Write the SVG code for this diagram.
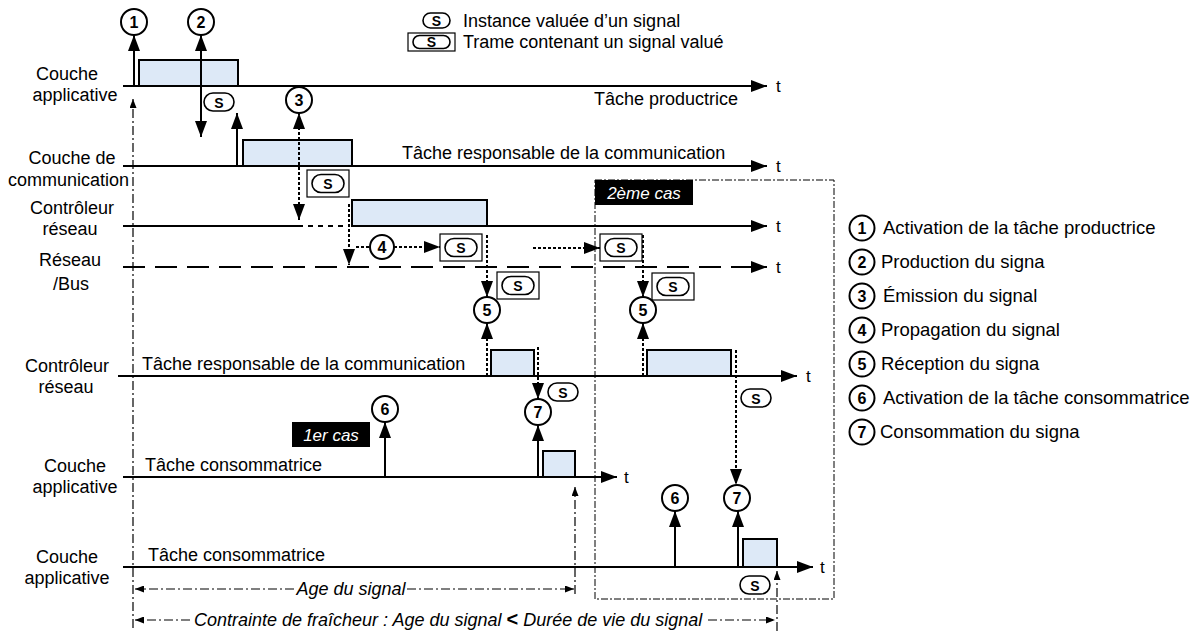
<svg xmlns="http://www.w3.org/2000/svg" width="1197" height="631" viewBox="0 0 1197 631">
<style>
  text { font-family: "Liberation Sans", Arial, sans-serif; fill: #000; }
  .lbl { font-size: 18px; }
  .lc { font-size: 18px; text-anchor: middle; }
  .leg { font-size: 18px; }
  .lege { font-size: 18.5px; }
  .it { font-size: 18px; font-style: italic; }
  .tag { font-size: 17px; font-style: italic; fill: #fff; text-anchor: middle; }
  .num { font-size: 16px; font-weight: bold; text-anchor: middle; }
  .s { font-size: 14px; font-weight: bold; text-anchor: middle; }
  .ax { font-size: 17px; }
  .task { fill: #dde9f7; stroke: #000; stroke-width: 2; }
  .ev { fill: #fff; stroke: #000; stroke-width: 2; }
  .pill { fill: #fff; stroke: #000; stroke-width: 1.6; }
  .frame { fill: #fff; stroke: #000; stroke-width: 1.2; }
  .solid { stroke: #000; stroke-width: 2; fill: none; }
  .dotted { stroke: #000; stroke-width: 2; stroke-dasharray: 3 2; fill: none; }
  .gap { stroke: #000; stroke-width: 2; stroke-dasharray: 5 5; fill: none; }
  .bus { stroke: #000; stroke-width: 2; stroke-dasharray: 22 10; fill: none; }
  .dd { stroke: #000; stroke-width: 1.2; stroke-dasharray: 9 3 2 3; fill: none; }
  .zone { stroke: #000; stroke-width: 1; stroke-dasharray: 7 2 2 2; fill: none; }
  .tagbox { fill: #000; }
</style>
<defs>
  <marker id="head" viewBox="0 0 16 12" refX="16" refY="6" markerWidth="16" markerHeight="12" markerUnits="userSpaceOnUse" orient="auto-start-reverse"><path d="M0,0 L16,6 L0,12 Z"/></marker>
  <marker id="small" viewBox="0 0 9 7" refX="9" refY="3.5" markerWidth="9" markerHeight="7" markerUnits="userSpaceOnUse" orient="auto-start-reverse"><path d="M0,0 L9,3.5 L0,7 Z"/></marker>
  <g id="sig"><rect class="pill" x="0" y="0" width="30" height="18" rx="9"/><text class="s" x="15" y="14.5">S</text></g>
  <g id="trame"><rect class="frame" x="0" y="0" width="42" height="27"/><rect class="pill" x="5" y="4.5" width="32" height="18" rx="9"/><text class="s" x="21" y="19">S</text></g>
</defs>

<!-- second case zone -->
<g id="zone-cas2">
  <rect class="zone" x="595" y="180" width="239" height="419"/>
  <rect class="tagbox" x="595" y="180" width="98" height="25"/>
  <text class="tag" x="644" y="199">2ème cas</text>
</g>

<!-- task execution boxes -->
<g id="task-prod"><rect class="task" x="139" y="60" width="99" height="26"/></g>
<g id="task-comm"><rect class="task" x="243" y="140" width="109" height="26"/></g>
<g id="task-ctrl-tx"><rect class="task" x="352" y="200" width="135" height="26"/></g>
<g id="task-ctrl-rx1"><rect class="task" x="491" y="350" width="43" height="26"/></g>
<g id="task-cons1"><rect class="task" x="543" y="451" width="32" height="26"/></g>
<g id="task-ctrl-rx2"><rect class="task" x="647" y="350" width="84" height="26"/></g>
<g id="task-cons2"><rect class="task" x="743" y="539" width="34" height="28"/></g>

<g id="connectors">
  <!-- time axes -->
  <line class="solid" x1="123" y1="86" x2="767" y2="86" marker-end="url(#head)"/>
  <line class="solid" x1="123" y1="166" x2="767" y2="166" marker-end="url(#head)"/>
  <line class="solid" x1="123" y1="226" x2="303" y2="226"/>
  <line class="gap" x1="308" y1="226" x2="350" y2="226"/>
  <line class="solid" x1="352" y1="226" x2="767" y2="226" marker-end="url(#head)"/>
  <line class="bus" x1="123" y1="267" x2="767" y2="267" marker-end="url(#head)"/>
  <line class="solid" x1="118" y1="376" x2="797" y2="376" marker-end="url(#head)"/>
  <line class="solid" x1="123" y1="477" x2="617" y2="477" marker-end="url(#head)"/>
  <line class="solid" x1="123" y1="567" x2="813" y2="567" marker-end="url(#head)"/>

  <!-- producer side events -->
  <line class="solid" x1="134" y1="86" x2="134" y2="35" marker-end="url(#head)"/>
  <line class="solid" x1="201" y1="137" x2="201" y2="35" marker-start="url(#head)" marker-end="url(#head)"/>
  <line class="solid" x1="237" y1="166" x2="237" y2="113" marker-end="url(#head)"/>
  <line class="dotted" x1="299" y1="220" x2="299" y2="113" marker-start="url(#head)" marker-end="url(#head)"/>
  <line class="dotted" x1="349" y1="204" x2="349" y2="265" marker-end="url(#head)"/>
  <line class="dotted" x1="356" y1="247" x2="370" y2="247"/>
  <line class="dotted" x1="394" y1="247" x2="440" y2="247" marker-end="url(#head)"/>
  <line class="dotted" x1="533" y1="248" x2="600" y2="248" marker-end="url(#head)"/>

  <!-- first case reception -->
  <line class="dotted" x1="487" y1="235" x2="487" y2="297" marker-end="url(#head)"/>
  <line class="dotted" x1="487" y1="376" x2="487" y2="323" marker-end="url(#head)"/>
  <line class="dotted" x1="538" y1="347" x2="538" y2="399" marker-end="url(#head)"/>
  <line class="solid" x1="538" y1="477" x2="538" y2="425" marker-end="url(#head)"/>
  <line class="solid" x1="385" y1="477" x2="385" y2="422" marker-end="url(#head)"/>

  <!-- second case reception -->
  <line class="dotted" x1="643" y1="235" x2="643" y2="297" marker-end="url(#head)"/>
  <line class="dotted" x1="643" y1="376" x2="643" y2="323" marker-end="url(#head)"/>
  <line class="dotted" x1="736" y1="350" x2="736" y2="485" marker-end="url(#head)"/>
  <line class="solid" x1="738" y1="567" x2="738" y2="511" marker-end="url(#head)"/>
  <line class="solid" x1="675" y1="567" x2="675" y2="511" marker-end="url(#head)"/>

  <!-- age and lifetime markers -->
  <line class="dd" x1="133" y1="628" x2="133" y2="99" marker-end="url(#small)"/>
  <line class="dd" x1="575" y1="594" x2="575" y2="487" marker-end="url(#small)"/>
  <line class="dd" x1="777" y1="631" x2="777" y2="571" marker-end="url(#small)"/>
  <line class="dd" x1="294" y1="589" x2="135" y2="589" marker-end="url(#small)"/>
  <line class="dd" x1="407" y1="589" x2="574" y2="589" marker-end="url(#small)"/>
  <line class="dd" x1="190" y1="620" x2="135" y2="620" marker-end="url(#small)"/>
  <line class="dd" x1="708" y1="620" x2="775" y2="620" marker-end="url(#small)"/>
</g>

<!-- signal instances -->
<g id="sig-prod"><use href="#sig" x="204" y="93"/></g>
<g id="trame-comm"><use href="#trame" x="307" y="170"/></g>
<g id="trame-bus1"><use href="#trame" x="440" y="234"/></g>
<g id="trame-rx1"><use href="#trame" x="497" y="272"/></g>
<g id="trame-bus2"><use href="#trame" x="600" y="234"/></g>
<g id="trame-rx2"><use href="#trame" x="652" y="273"/></g>
<g id="sig-rx1"><use href="#sig" x="548" y="383"/></g>
<g id="sig-rx2"><use href="#sig" x="741" y="389"/></g>
<g id="sig-cons2"><use href="#sig" x="740" y="576"/></g>

<!-- numbered events -->
<g id="ev1"><circle class="ev" cx="134" cy="22" r="13"/><text class="num" x="134" y="28">1</text></g>
<g id="ev2"><circle class="ev" cx="201" cy="22" r="13"/><text class="num" x="201" y="28">2</text></g>
<g id="ev3"><circle class="ev" cx="299" cy="100" r="13"/><text class="num" x="299" y="106">3</text></g>
<g id="ev4"><circle class="ev" cx="382" cy="247" r="12"/><text class="num" x="382" y="253">4</text></g>
<g id="ev5a"><circle class="ev" cx="487" cy="310" r="13"/><text class="num" x="487" y="316">5</text></g>
<g id="ev5b"><circle class="ev" cx="643" cy="310" r="13"/><text class="num" x="643" y="316">5</text></g>
<g id="ev6a"><circle class="ev" cx="385" cy="409" r="13"/><text class="num" x="385" y="415">6</text></g>
<g id="ev7a"><circle class="ev" cx="538" cy="412" r="13"/><text class="num" x="538" y="418">7</text></g>
<g id="ev6b"><circle class="ev" cx="675" cy="498" r="13"/><text class="num" x="675" y="504">6</text></g>
<g id="ev7b"><circle class="ev" cx="737" cy="498" r="13"/><text class="num" x="737" y="504">7</text></g>

<g id="tag-cas1">
  <rect class="tagbox" x="292" y="422" width="78" height="25"/>
  <text class="tag" x="331" y="441">1er cas</text>
</g>

<!-- layer names -->
<g id="layer-app-prod"><text class="lc" x="67" y="80">Couche</text><text class="lc" x="75" y="101">applicative</text></g>
<g id="layer-comm"><text class="lc" x="72" y="164">Couche de</text><text class="lbl" x="8" y="186">communication</text></g>
<g id="layer-ctrl-tx"><text class="lc" x="72" y="214">Contrôleur</text><text class="lc" x="70" y="235">réseau</text></g>
<g id="layer-bus"><text class="lc" x="70" y="266">Réseau</text><text class="lc" x="71" y="290">/Bus</text></g>
<g id="layer-ctrl-rx"><text class="lc" x="67" y="372">Contrôleur</text><text class="lc" x="66" y="393">réseau</text></g>
<g id="layer-app-cons1"><text class="lc" x="75" y="472">Couche</text><text class="lc" x="75" y="493">applicative</text></g>
<g id="layer-app-cons2"><text class="lc" x="67" y="563">Couche</text><text class="lc" x="67" y="584">applicative</text></g>

<!-- task names and axis labels -->
<g id="task-names">
  <text class="lbl" x="738" y="105" text-anchor="end">Tâche productrice</text>
  <text class="lbl" x="402" y="159">Tâche responsable de la communication</text>
  <text class="lbl" x="142" y="370">Tâche responsable de la communication</text>
  <text class="lbl" x="145" y="471">Tâche consommatrice</text>
  <text class="lbl" x="148" y="561">Tâche consommatrice</text>
</g>
<g id="axis-t">
  <text class="ax" x="776" y="92">t</text>
  <text class="ax" x="776" y="172">t</text>
  <text class="ax" x="776" y="232">t</text>
  <text class="ax" x="776" y="273">t</text>
  <text class="ax" x="806" y="382">t</text>
  <text class="ax" x="624" y="483">t</text>
  <text class="ax" x="820" y="573">t</text>
</g>

<!-- durations -->
<g id="durations">
  <text class="it" x="351" y="595" text-anchor="middle">Age du signal</text>
  <text class="it" x="194" y="626">Contrainte de fraîcheur : Age du signal <tspan font-weight="bold" font-style="normal" font-size="20">&lt;</tspan> Durée de vie du signal</text>
</g>

<!-- symbol legend -->
<g id="legend-symbols">
  <rect class="pill" x="423" y="13" width="27" height="15" rx="7.5"/><text class="s" x="436.5" y="25.5" font-size="13">S</text>
  <text class="leg" x="463" y="27">Instance valuée d’un signal</text>
  <rect class="frame" x="408" y="33" width="47" height="18"/><rect class="pill" x="413" y="35.5" width="37" height="13" rx="6.5"/><text class="s" x="431.5" y="46.5" font-size="13">S</text>
  <text class="leg" x="463" y="48">Trame contenant un signal valué</text>
</g>

<!-- event legend -->
<g id="legend-events">
  <circle class="ev" cx="862" cy="228" r="12.5" stroke-width="1.8"/><text class="num" x="862" y="234">1</text><text class="lege" x="883" y="234">Activation de la tâche productrice</text>
  <circle class="ev" cx="862" cy="262" r="12.5" stroke-width="1.8"/><text class="num" x="862" y="268">2</text><text class="lege" x="881" y="268">Production du signa</text>
  <circle class="ev" cx="862" cy="296" r="12.5" stroke-width="1.8"/><text class="num" x="862" y="302">3</text><text class="lege" x="883" y="302">Émission du signal</text>
  <circle class="ev" cx="862" cy="330" r="12.5" stroke-width="1.8"/><text class="num" x="862" y="336">4</text><text class="lege" x="881" y="336">Propagation du signal</text>
  <circle class="ev" cx="862" cy="364" r="12.5" stroke-width="1.8"/><text class="num" x="862" y="370">5</text><text class="lege" x="881" y="370">Réception du signa</text>
  <circle class="ev" cx="862" cy="398" r="12.5" stroke-width="1.8"/><text class="num" x="862" y="404">6</text><text class="lege" x="883" y="404">Activation de la tâche consommatrice</text>
  <circle class="ev" cx="862" cy="432" r="12.5" stroke-width="1.8"/><text class="num" x="862" y="438">7</text><text class="lege" x="880" y="438">Consommation du signa</text>
</g>
</svg>
